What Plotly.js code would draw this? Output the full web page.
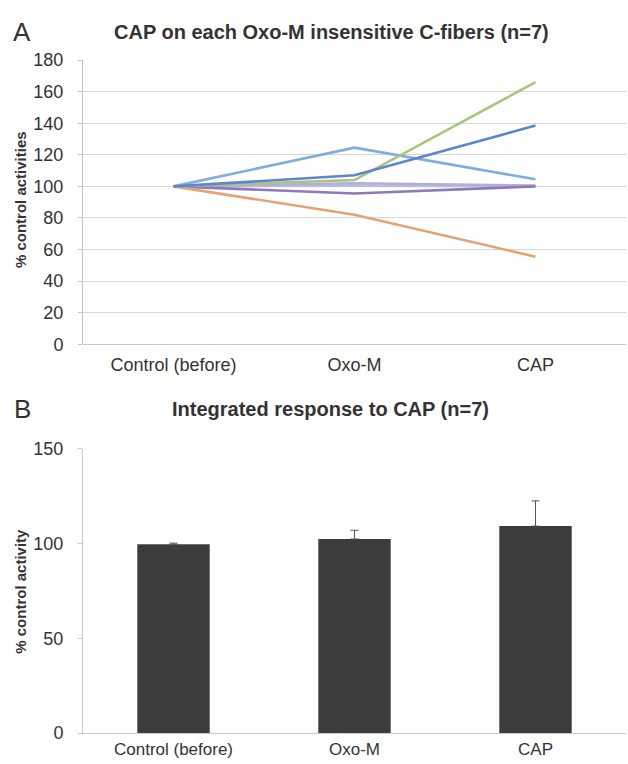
<!DOCTYPE html>
<html>
<head>
<meta charset="utf-8">
<script src="https://cdn.plot.ly/plotly-3.0.1.min.js"></script>
<style>html,body{margin:0;padding:0;background:#fff;}#chart{width:628px;height:764px;}</style>
</head>
<body>
<div id="chart"></div>
<script>
// ---- data ----
var categories = ["Control (before)", "Oxo-M", "CAP"];
var fiber1 = [100, 124.5, 104.5];
var fiber2 = [100, 107, 138.5];
var fiber3 = [100, 104, 166];
var fiber4 = [100, 95.5, 100];
var fiber5 = [100, 102, 100.5];
var fiber6 = [100, 82, 55.5];
var fiber7 = [100, 100.5, 100];
var meanResponse = [99.6, 102.4, 109.2];
var semResponse = [0.6, 4.6, 13.3];
var topTicks = [0, 20, 40, 60, 80, 100, 120, 140, 160, 180];
var bottomTicks = [0, 50, 100, 150];

var fibers = [fiber7, fiber5, fiber4, fiber6, fiber1, fiber3, fiber2];
var fiberColors = ["#b3bfdc", "#b7abd8", "#9078bb", "#e2a474", "#7eaedd", "#a6c67c", "#5f86cc"];

var traces = [];
fibers.forEach(function (f, i) {
  traces.push({
    type: "scatter", mode: "lines", x: categories, y: f,
    xaxis: "x", yaxis: "y",
    line: {color: fiberColors[i], width: 2.6},
    showlegend: false, hoverinfo: "skip"
  });
});
traces.push({
  type: "bar", x: categories, y: meanResponse,
  xaxis: "x2", yaxis: "y2",
  marker: {color: "#3c3c3c", line: {width: 0}},
  error_y: {type: "data", symmetric: false, array: semResponse, arrayminus: [0, 0, 0],
            color: "#555", thickness: 1, width: 4},
  showlegend: false, hoverinfo: "skip"
});

var FONT = "Liberation Sans, Arial, sans-serif";
var tickFont = {family: FONT, size: 18, color: "#333"};

var layout = {
  width: 628, height: 764,
  margin: {l: 83, r: 2, t: 60, b: 31},
  paper_bgcolor: "#fff", plot_bgcolor: "#fff",
  bargap: 0.6,
  xaxis: {
    domain: [0, 1], anchor: "y", type: "category", range: [-0.5, 2.5],
    showline: false, showgrid: false, zeroline: false,
    ticks: "", tickfont: tickFont, ticklabelstandoff: 8
  },
  yaxis: {
    domain: [0.5775, 1], anchor: "x", range: [0, 180],
    tickvals: topTicks, ticktext: topTicks.map(String),
    showline: true, linecolor: "#c0c0d0", linewidth: 1,
    showgrid: true, gridcolor: "#d6d6dc", gridwidth: 1,
    zeroline: true, zerolinecolor: "#c8c8d0",
    ticks: "outside", ticklen: 4, tickcolor: "#c0c0d0",
    tickfont: tickFont, ticklabelstandoff: 11
  },
  xaxis2: {
    domain: [0, 1], anchor: "y2", type: "category", range: [-0.5, 2.5],
    showline: true, linecolor: "#c8c8d0", linewidth: 1,
    showgrid: false, zeroline: false,
    ticks: "", tickfont: {family: FONT, size: 17, color: "#333"}, ticklabelstandoff: 1
  },
  yaxis2: {
    domain: [0, 0.4223], anchor: "x2", range: [0, 150],
    tickvals: bottomTicks, ticktext: bottomTicks.map(String),
    showline: true, linecolor: "#c8c8d0", linewidth: 1,
    showgrid: false, zeroline: false,
    ticks: "outside", ticklen: 4, tickcolor: "#c8c8d0",
    tickfont: tickFont, ticklabelstandoff: 11
  },
  annotations: [
    {text: "A", xref: "paper", yref: "paper", x: -0.112, y: 1.0416, xanchor: "center", yanchor: "middle",
     showarrow: false, font: {family: FONT, size: 26, color: "#333"}},
    {text: "<b>CAP on each Oxo-M insensitive C-fibers (n=7)</b>", xref: "paper", yref: "paper",
     x: 0.457, y: 1.0416, xanchor: "center", yanchor: "middle", showarrow: false,
     font: {family: FONT, size: 20, color: "#333"}},
    {text: "<b>% control activities</b>", xref: "paper", yref: "paper", x: -0.114, y: 0.792,
     xanchor: "center", yanchor: "middle", textangle: -90, showarrow: false,
     font: {family: FONT, size: 15, color: "#333"}},
    {text: "B", xref: "paper", yref: "paper", x: -0.112, y: 0.481, xanchor: "center", yanchor: "middle",
     showarrow: false, font: {family: FONT, size: 26, color: "#333"}},
    {text: "<b>Integrated response to CAP (n=7)</b>", xref: "paper", yref: "paper",
     x: 0.455, y: 0.4817, xanchor: "center", yanchor: "middle", showarrow: false,
     font: {family: FONT, size: 20, color: "#333"}},
    {text: "<b>% control activity</b>", xref: "paper", yref: "paper", x: -0.114, y: 0.21,
     xanchor: "center", yanchor: "middle", textangle: -90, showarrow: false,
     font: {family: FONT, size: 15, color: "#333"}}
  ]
};

Plotly.newPlot("chart", traces, layout, {displayModeBar: false, staticPlot: true});
</script>
</body>
</html>
